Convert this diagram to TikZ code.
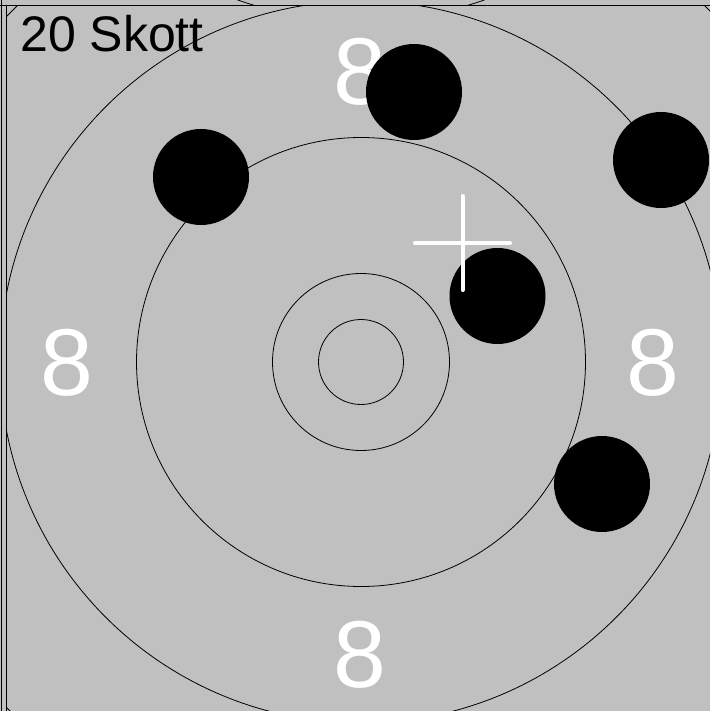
\documentclass[tikz,border=0pt]{standalone}
\usepackage{fontspec}
\setmainfont{Liberation Sans}
\definecolor{bg}{RGB}{192,192,192}
\begin{document}
\begin{tikzpicture}[x=1pt,y=-1pt,
  ring/.style={draw=black,line width=0.8pt},
  edge/.style={draw=black,line width=1pt},
  shot/.style={circle,fill=black,inner sep=0pt,minimum size=96pt},
  ringnum/.style={text=white,inner sep=0pt,anchor=base,font=\fontsize{95}{110}\selectfont},
  crossline/.style={draw=white,line width=4pt,line cap=round}]
\useasboundingbox (0,0) rectangle (710,711);
\fill[bg] (0,0) rectangle (710,711);
% neighbouring target above
\begin{scope}
  \clip (0,0) rectangle (710,6);
  \draw[ring] (361,-349) circle[radius=370];
\end{scope}
\draw[edge] (1,0) -- (1,711);
\draw[edge] (0,6) -- (710,6);
\draw[edge] (6,6) -- (6,711);
\begin{scope}
  \clip (6.5,6.5) rectangle (710,711);
  \coordinate (c) at (361,362);
  \draw[ring] (c) circle[radius=42.5];
  \draw[ring] (c) circle[radius=88.5];
  \draw[ring] (c) circle[radius=224.5];
  \draw[ring] (c) circle[radius=361];
  \draw[ring] (c) circle[radius=495];
  \node[ringnum] (n1) at (360,104.5) {8};
  \node[ringnum] (n2) at (67,395.5) {8};
  \node[ringnum] (n3) at (653,395.5) {8};
  \node[ringnum] (n4) at (360,687) {8};
  \node[shot] (s1) at (414,92) {};
  \node[shot] (s2) at (201,177) {};
  \node[shot] (s3) at (661,160) {};
  \node[shot] (s4) at (497.5,296) {};
  \node[shot] (s5) at (602,484) {};
  \coordinate (xl) at (415,243);
  \coordinate (xr) at (510,243);
  \coordinate (xt) at (462.5,196);
  \coordinate (xb) at (462.5,290);
  \draw[crossline] (xl) -- (xr);
  \draw[crossline] (xt) -- (xb);
  \node[inner sep=0pt,anchor=base west,font=\fontsize{50}{60}\selectfont] (title) at (20,52) {20 Skott};
\end{scope}
\end{tikzpicture}
\end{document}
